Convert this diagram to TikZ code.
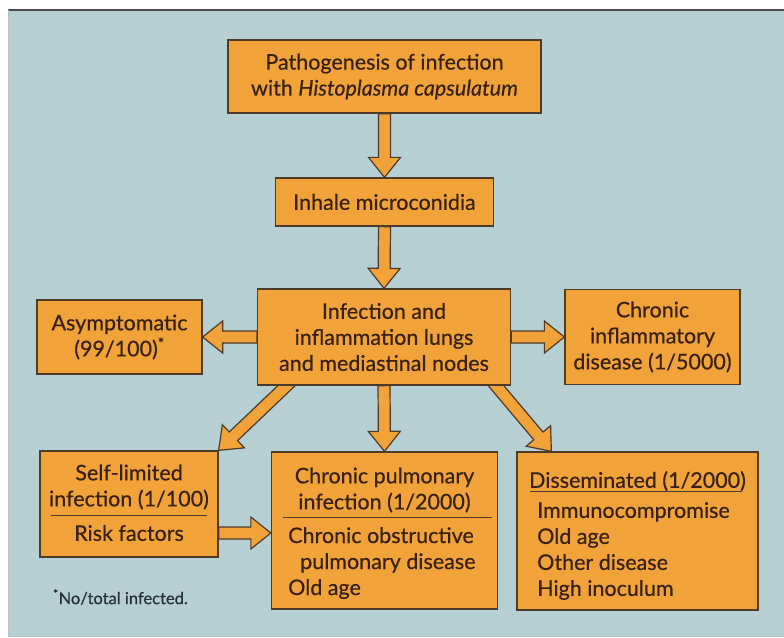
\documentclass[tikz,border=0pt]{standalone}
\usepackage{fontspec}
\setmainfont{Lato}[FakeBold=0.5]
\usepackage{tikz}
\usetikzlibrary{positioning, calc}

\definecolor{boxorange}{RGB}{241,163,58}
\definecolor{panelblue}{RGB}{181,207,210}
\definecolor{boxline}{RGB}{78,58,40}
\definecolor{inkbrown}{RGB}{56,32,18}
\definecolor{noteink}{RGB}{38,50,56}

\newcommand{\boxfont}{\fontsize{21.5}{26}\selectfont}
\newcommand{\notefont}{\fontsize{16.5}{20}\selectfont}

\pgfdeclarelayer{background}
\pgfdeclarelayer{arrows}
\pgfsetlayers{background,arrows,main}

\tikzset{
  stagebox/.style={draw=boxline, line width=1.3pt, fill=boxorange, text=inkbrown,
    align=center, inner sep=0pt, font=\boxfont},
  parttext/.style={text=inkbrown, align=center, inner sep=0pt, font=\boxfont},
  listtext/.style={text=inkbrown, align=left, inner sep=0pt, font=\boxfont, anchor=north west},
  divider/.style={draw=boxline, line width=1pt},
  arrowbody/.style={draw=boxline, line width=1.2pt, fill=boxorange, line join=miter},
}

\newcommand{\fatarrow}[2]{%
  \begin{pgfonlayer}{arrows}
  \filldraw[arrowbody] let \p1=(#1), \p2=(#2),
      \n1={atan2(\y2-\y1,\x2-\x1)}, \n2={veclen(\x2-\x1,\y2-\y1)-20pt} in
    ($(\p1)+(\n1-90:6pt)$) -- ($(\p1)+(\n1:\n2*1pt)+(\n1-90:6pt)$)
    -- ($(\p1)+(\n1:\n2*1pt)+(\n1-90:16pt)$) -- (\p2)
    -- ($(\p1)+(\n1:\n2*1pt)+(\n1+90:16pt)$) -- ($(\p1)+(\n1:\n2*1pt)+(\n1+90:6pt)$)
    -- ($(\p1)+(\n1+90:6pt)$) -- cycle;
  \end{pgfonlayer}}

\begin{document}
\begin{tikzpicture}[x=1pt, y=-1pt]
\useasboundingbox (0,0) rectangle (784,637);
\begin{pgfonlayer}{background}
\fill[white] (0,0) rectangle (784,637);
\fill[panelblue] (8,10) rectangle (784,637);
\draw[black!70, line width=1.5pt] (8,10) -- (784,10);
\draw[black!25, line width=0.8pt] (8,10) -- (8,637);
\end{pgfonlayer}

\node[stagebox, minimum width=313pt, minimum height=73pt] (title) at (384.5,76.5)
  {Pathogenesis of infection\\with \textit{Histoplasma capsulatum}};
\node[stagebox, minimum width=218pt, minimum height=48pt] (inhale) at (384.5,202)
  {Inhale microconidia};
\node[stagebox, minimum width=253pt, minimum height=96pt] (centre) at (384,337)
  {Infection and\\inflammation lungs\\and mediastinal nodes};
\node[stagebox, minimum width=165pt, minimum height=74pt] (asympt) at (119.5,337)
  {Asymptomatic\\(99/100)\textsuperscript{*}};
\node[stagebox, minimum width=175pt, minimum height=95pt] (chronicinfl) at (652.5,337)
  {Chronic\\inflammatory\\disease (1/5000)};

\node[stagebox, minimum width=178pt, minimum height=106pt] (selflim) at (129,504) {};
\node[parttext] (selflimtop) at (129,487) {Self-limited\\infection (1/100)};
\node[parttext] (riskfac) at (129,533) {Risk factors};
\draw[divider] (51,515) -- (207,515);

\node[stagebox, minimum width=226pt, minimum height=157pt] (chronpulm) at (384.5,530.5) {};
\node[parttext] (chronpulmtop) at (384.5,490) {Chronic pulmonary\\infection (1/2000)};
\node[listtext] (chronpulmlist) at (288,527)
  {Chronic obstructive\\\hspace*{12pt}pulmonary disease\\Old age};
\draw[divider] (283,517) -- (492,517);

\node[stagebox, minimum width=241pt, minimum height=158pt] (dissem) at (637.5,531) {};
\node[parttext] (dissemtop) at (637.5,481) {Disseminated (1/2000)};
\node[listtext] (dissemlist) at (537,502)
  {Immunocompromise\\Old age\\Other disease\\High inoculum};
\draw[divider] (530,491) -- (742,491);

\node[text=noteink, font=\notefont, anchor=west, inner sep=0pt] (note) at (53,597)
  {\textsuperscript{*}No/total infected.};

\fatarrow{title.south}{inhale.north}
\fatarrow{inhale.south}{centre.north}
\fatarrow{centre.west}{asympt.east}
\fatarrow{centre.east}{chronicinfl.west}
\fatarrow{centre.south}{chronpulm.north}
\fatarrow{$(centre.south west)+(37pt,7pt)$}{selflim.north east}
\fatarrow{$(centre.south east)+(-21pt,7pt)$}{$(dissem.north west)+(35pt,0pt)$}
\fatarrow{selflim.east |- riskfac}{chronpulm.west |- riskfac}
\end{tikzpicture}
\end{document}
